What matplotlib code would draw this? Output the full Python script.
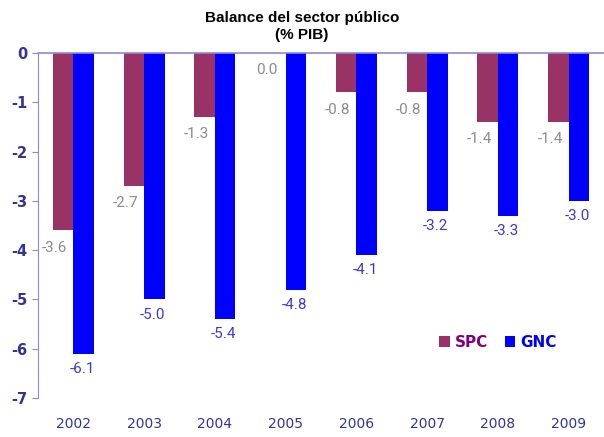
import matplotlib
matplotlib.use("Agg")
from matplotlib import pyplot as plt
import numpy as np

years = ["2002", "2003", "2004", "2005", "2006", "2007", "2008", "2009"]
spc = [-3.6, -2.7, -1.3, 0.0, -0.8, -0.8, -1.4, -1.4]
gnc = [-6.1, -5.0, -5.4, -4.8, -4.1, -3.2, -3.3, -3.0]

plt.rcParams['font.family'] = ['DejaVu Sans']
plt.rcParams['axes.unicode_minus'] = False

fig = plt.figure(figsize=(6.04, 4.37), dpi=100)
ax = fig.add_axes([38 / 604, 1 - 398 / 437, 566 / 604, 345 / 437])

x = np.arange(len(years))
w = 0.29
axis_col = '#8c8cd0'

ax.bar(x - w / 2, spc, w, color='#993366', label='SPC')
ax.bar(x + w / 2, gnc, w, color='#0000ff', label='GNC')

# value labels just under the end of each bar
for i in range(len(years)):
    ax.annotate("%.1f" % spc[i], (x[i] - w / 2, spc[i]), xytext=(-6, -12.5),
                textcoords='offset points', ha='center', va='center',
                fontsize=11, family='Roboto', color='#8c8c8c')
    ax.annotate("%.1f" % gnc[i], (x[i] + w / 2, gnc[i]), xytext=(-1, -11),
                textcoords='offset points', ha='center', va='center',
                fontsize=11, family='Roboto', color='#3b3bd0')

ax.set_xlim(-0.5, 7.5)
ax.set_ylim(-7, 0)
ax.set_yticks(range(-7, 1))
ax.set_xticks(x)
ax.set_xticklabels(years)

for s in ['right', 'bottom']:
    ax.spines[s].set_visible(False)
ax.spines['left'].set_color(axis_col)
ax.spines['top'].set_color(axis_col)
ax.spines['top'].set_linewidth(1.2)

ax.tick_params(axis='y', direction='out', length=4, color=axis_col,
               labelsize=10.5, labelcolor='#333399')
for t in ax.get_yticklabels():
    t.set_fontweight('bold')
ax.tick_params(axis='x', length=0, pad=14, labelsize=10, labelcolor='#333399')

fig.text(0.5, 0.939, "Balance del sector público\n(% PIB)", ha='center',
         va='center', fontsize=11, fontweight='bold', linespacing=1.3,
         family='Liberation Sans')

leg = ax.legend(loc='lower right', bbox_to_anchor=(0.94, 0.1), ncol=2,
                frameon=False, handlelength=0.7, handleheight=0.7,
                columnspacing=1.1, handletextpad=0.3,
                prop={'weight': 'bold', 'size': 11})
for txt, c in zip(leg.get_texts(), ['#800080', '#0000ff']):
    txt.set_color(c)

plt.savefig("out.png")
